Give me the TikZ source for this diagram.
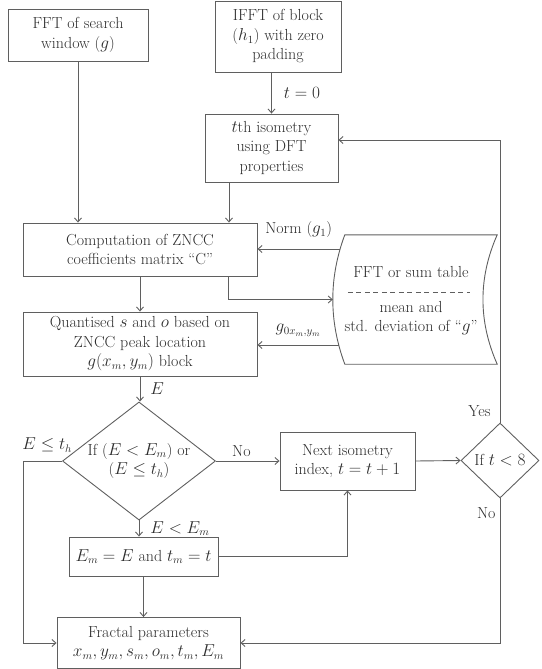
\documentclass[tikz,border=0pt]{standalone}
\definecolor{linegray}{RGB}{95,95,95}
\definecolor{textgray}{RGB}{45,45,45}
\usepackage{tikz}
\usetikzlibrary{
    arrows.meta,
    shapes.geometric,
    positioning,
    calc
}
\usepackage{amsmath}
\tikzstyle{block} = [
    rectangle,
    draw=linegray,
    line width=0.9pt,
    text=textgray,
    align=center,
    inner sep=0pt
]
\tikzstyle{decision} = [
    diamond,
    draw=linegray,
    line width=0.9pt,
    text=textgray,
    align=center,
    inner sep=0pt
]
\tikzstyle{arrow} = [
    ->,
    >={Straight Barb[length=4pt,width=7pt]},
    line width=0.9pt,
    draw=linegray
]
\tikzstyle{lbl} = [
    text=textgray,
    inner sep=0pt
]
\begin{document}
\begin{tikzpicture}[x=1pt, y=-1pt, font=\fontsize{16}{19.5}\selectfont]
        \useasboundingbox (0,0) rectangle (541,669);

        % Nodes
        \node[block, minimum width=140, minimum height=52] (search) at (78,35) {FFT of search\\window ($g$)};
        \node[block, minimum width=126, minimum height=71] (ifft) at (278,36.5) {IFFT of block\\($h_1$) with zero\\padding};
        \node[block, minimum width=133, minimum height=68] (iso) at (271.5,148) {$t$th isometry\\using DFT\\properties};
        \node[block, minimum width=234, minimum height=53] (comp) at (140,249.5) {Computation of ZNCC\\coefficients matrix “C”};
        \node[block, minimum width=234, minimum height=64] (quant) at (140,344) {Quantised $s$ and $o$ based on\\ZNCC peak location\\$g(x_m, y_m)$ block};
        \node[minimum width=152, minimum height=129, inner sep=0pt] (table) at (421,299.5) {};
        \node[decision, minimum width=153, minimum height=78, inner ysep=-10pt] (dec) at (139,461) {If ($E < E_m$) or\\($E \le t_h$)};
        \node[block, minimum width=135, minimum height=58] (next) at (347.5,461) {Next isometry\\index, $t = t + 1$};
        \node[decision, minimum width=78, minimum height=75] (test) at (500,460.5) {If $t < 8$};
        \node[block, minimum width=149, minimum height=39] (em) at (143.5,556.5) {$E_m = E$ and $t_m = t$};
        \node[block, minimum width=183, minimum height=51] (fractal) at (148.5,643) {Fractal parameters\\$x_m, y_m, s_m, o_m, t_m, E_m$};

        % Table outline and contents
        \draw[draw=linegray, line width=0.9pt] (table.north west) .. controls +(-16,43) and +(-16,-43) .. (table.south west)
            -- (table.south east) .. controls +(-19,-43) and +(-19,43) .. (table.north east) -- cycle;
        \node[lbl] (tabtop) at ($(table.center)+(-10,-27.5)$) {FFT or sum table};
        \draw[draw=linegray, line width=0.8pt, dash pattern=on 5pt off 3.5pt] ($(table.west)+(3,-7.5)$) -- ($(table.east)+(-27,-7.5)$);
        \node[lbl, align=center] (tabbot) at ($(table.center)+(-10,18.5)$) {mean and\\std. deviation of “$g$”};
        \coordinate (tabin) at ($(table.west)+(-12,0)$);
        \coordinate (tabnorm) at ($(table.west)+(-5,-50.5)$);
        \coordinate (tabg) at ($(table.west)+(-6,45.5)$);

        % Main column
        \draw[arrow] (search.south) -- (search.south |- comp.north);
        \draw[arrow] (iso.north |- ifft.south) -- node[lbl, right=12pt] {$t = 0$} (iso.north);
        \draw[arrow] ([xshift=-42.5]iso.south) -- ([xshift=-42.5]iso.south |- comp.north);
        \draw[arrow] (comp.south) -- (quant.north);
        \draw[arrow] (quant.south) -- node[lbl, right=10pt] {$E$} (quant.south |- dec.north);
        \draw[arrow] (dec.south) -- node[lbl, right=11pt] {$E < E_m$} (dec.south |- em.north);
        \draw[arrow] (em.south) -- (em.south |- fractal.north);

        % Table links
        \draw[arrow] ([xshift=88]comp.south) |- (tabin);
        \draw[arrow] (tabnorm) -- node[lbl, above=11pt] {Norm ($g_1$)} (tabnorm -| comp.east);
        \draw[arrow] (tabg) -- node[lbl, above=8pt] {$g_{0x_m,y_m}$} (tabg -| quant.east);

        % Decisions and loop
        \draw[arrow] (dec.east) -- node[lbl, pos=0.4, above=4pt] {No} (next.west);
        \draw[arrow] (dec.west) -- node[lbl, pos=0.38, above=8pt] {$E \le t_h$} ++(-39,0) |- (fractal.west);
        \draw[arrow] (em.east) -| (next.south);
        \draw[arrow] (next.east) -- (test.west);
        \draw[arrow] (test.north) |- node[lbl, pos=0.02, left=9pt] {Yes} ($(iso.east)+(0,-8)$);
        \draw[arrow] (test.south) |- node[lbl, pos=0.05, left=4pt] {No} (fractal.east);
    \end{tikzpicture}
\end{document}
